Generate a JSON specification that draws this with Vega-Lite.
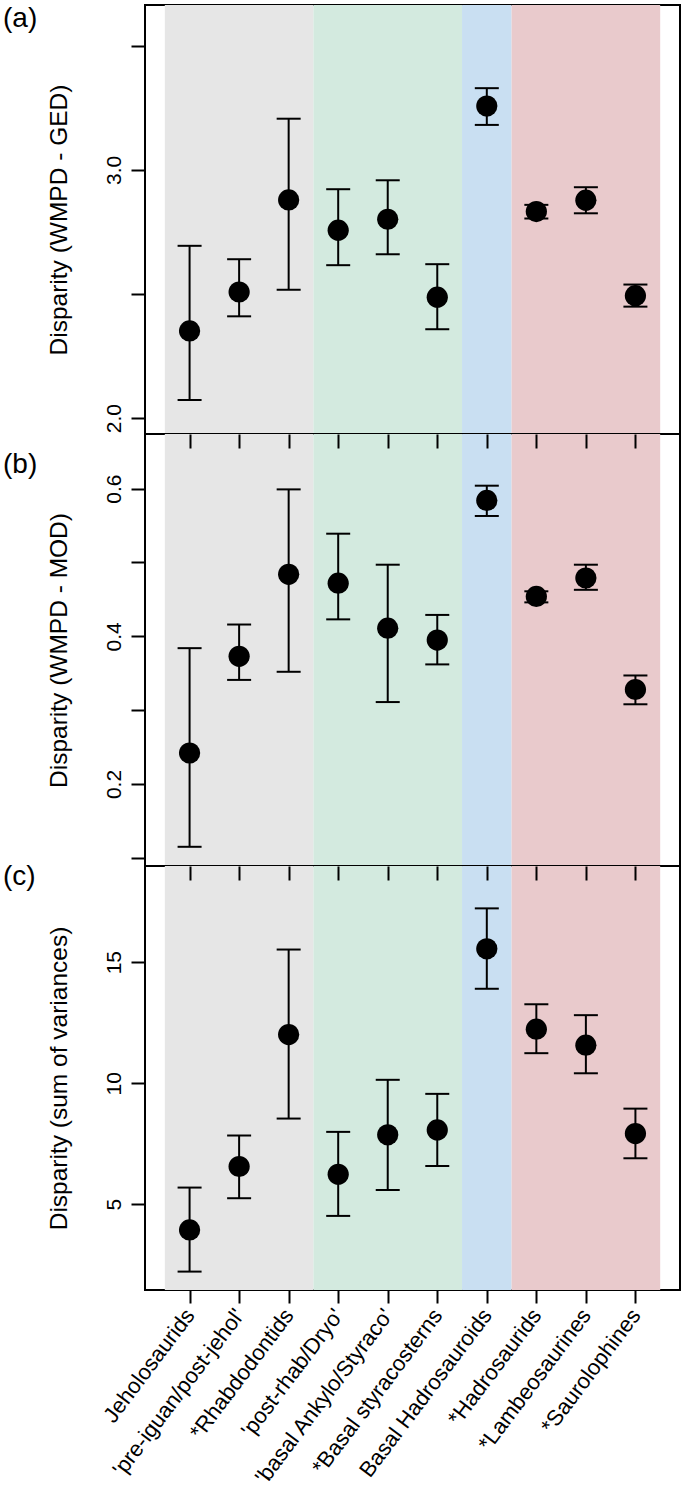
{
  "$schema": "https://vega.github.io/schema/vega-lite/v6.json",
  "padding": {"left": 2, "top": 4, "right": 3, "bottom": 5},
  "background": "white",
  "config": {
    "font": "Liberation Sans",
    "view": {"stroke": "black", "strokeWidth": 2},
    "axis": {"labelColor": "black", "titleColor": "black", "tickColor": "black", "domain": false, "grid": false, "labelFont": "Liberation Sans", "titleFont": "Liberation Sans", "titleFontWeight": "normal", "labelLimit": 0},
    "title": {"font": "Liberation Sans", "fontWeight": "normal", "color": "black"}
  },
  "datasets": {
    "bands": [
      {"pos": 0.5, "pos2": 3.5, "band": "basal ornithopods"},
      {"pos": 3.5, "pos2": 6.5, "band": "styracosterns"},
      {"pos": 6.5, "pos2": 7.5, "band": "basal hadrosauroids"},
      {"pos": 7.5, "pos2": 10.5, "band": "hadrosaurids"}
    ],
    "a": [
      {"pos": 1, "taxon": "Jeholosaurids", "value": 2.351, "lower": 2.073, "upper": 2.694},
      {"pos": 2, "taxon": "'pre-iguan/post-jehol'", "value": 2.508, "lower": 2.410, "upper": 2.640},
      {"pos": 3, "taxon": "*Rhabdodontids", "value": 2.879, "lower": 2.517, "upper": 3.206},
      {"pos": 4, "taxon": "'post-rhab/Dryo'", "value": 2.757, "lower": 2.616, "upper": 2.922},
      {"pos": 5, "taxon": "'basal Ankylo/Styraco'", "value": 2.801, "lower": 2.660, "upper": 2.958},
      {"pos": 6, "taxon": "*Basal styracosterns", "value": 2.487, "lower": 2.358, "upper": 2.620},
      {"pos": 7, "taxon": "Basal Hadrosauroids", "value": 3.257, "lower": 3.181, "upper": 3.329},
      {"pos": 8, "taxon": "*Hadrosaurids", "value": 2.832, "lower": 2.804, "upper": 2.859},
      {"pos": 9, "taxon": "*Lambeosaurines", "value": 2.878, "lower": 2.825, "upper": 2.930},
      {"pos": 10, "taxon": "*Saurolophines", "value": 2.493, "lower": 2.449, "upper": 2.538}
    ],
    "b": [
      {"pos": 1, "taxon": "Jeholosaurids", "value": 0.242, "lower": 0.115, "upper": 0.384},
      {"pos": 2, "taxon": "'pre-iguan/post-jehol'", "value": 0.373, "lower": 0.341, "upper": 0.416},
      {"pos": 3, "taxon": "*Rhabdodontids", "value": 0.484, "lower": 0.352, "upper": 0.599},
      {"pos": 4, "taxon": "'post-rhab/Dryo'", "value": 0.472, "lower": 0.423, "upper": 0.539},
      {"pos": 5, "taxon": "'basal Ankylo/Styraco'", "value": 0.411, "lower": 0.311, "upper": 0.497},
      {"pos": 6, "taxon": "*Basal styracosterns", "value": 0.395, "lower": 0.362, "upper": 0.429},
      {"pos": 7, "taxon": "Basal Hadrosauroids", "value": 0.584, "lower": 0.563, "upper": 0.604},
      {"pos": 8, "taxon": "*Hadrosaurids", "value": 0.454, "lower": 0.446, "upper": 0.461},
      {"pos": 9, "taxon": "*Lambeosaurines", "value": 0.479, "lower": 0.463, "upper": 0.497},
      {"pos": 10, "taxon": "*Saurolophines", "value": 0.328, "lower": 0.308, "upper": 0.347}
    ],
    "c": [
      {"pos": 1, "taxon": "Jeholosaurids", "value": 3.94, "lower": 2.22, "upper": 5.69},
      {"pos": 2, "taxon": "'pre-iguan/post-jehol'", "value": 6.56, "lower": 5.25, "upper": 7.84},
      {"pos": 3, "taxon": "*Rhabdodontids", "value": 12.01, "lower": 8.54, "upper": 15.52},
      {"pos": 4, "taxon": "'post-rhab/Dryo'", "value": 6.24, "lower": 4.52, "upper": 7.99},
      {"pos": 5, "taxon": "'basal Ankylo/Styraco'", "value": 7.87, "lower": 5.59, "upper": 10.14},
      {"pos": 6, "taxon": "*Basal styracosterns", "value": 8.07, "lower": 6.58, "upper": 9.56},
      {"pos": 7, "taxon": "Basal Hadrosauroids", "value": 15.55, "lower": 13.90, "upper": 17.22},
      {"pos": 8, "taxon": "*Hadrosaurids", "value": 12.23, "lower": 11.24, "upper": 13.26},
      {"pos": 9, "taxon": "*Lambeosaurines", "value": 11.57, "lower": 10.41, "upper": 12.81},
      {"pos": 10, "taxon": "*Saurolophines", "value": 7.92, "lower": 6.90, "upper": 8.95}
    ]
  },
  "spacing": 0,
  "bounds": "flush",
  "vconcat": [
    {
      "width": 535,
      "height": 429,
      "title": {"text": "(a)", "anchor": "start", "frame": "group", "orient": "top", "offset": 0, "baseline": "top", "dx": -142, "dy": 28, "fontSize": 28},
      "resolve": {"axis": {"x": "independent", "y": "independent"}},
      "layer": [
        {
          "data": {"name": "bands"},
          "mark": {"type": "rect"},
          "encoding": {
            "x": {"field": "pos", "type": "quantitative", "scale": {"domain": [0.1, 10.9], "nice": false, "zero": false}, "axis": null},
            "x2": {"field": "pos2"},
            "color": {"field": "band", "type": "nominal", "scale": {"domain": ["basal ornithopods", "styracosterns", "basal hadrosauroids", "hadrosaurids"], "range": ["#e6e6e6", "#d3eadf", "#c9dff2", "#e9cacc"]}, "legend": null}
          }
        },
        {
          "data": {"name": "a"},
          "mark": {"type": "rule", "strokeWidth": 2, "color": "black"},
          "encoding": {
            "x": {"field": "pos", "type": "quantitative", "scale": {"domain": [0.1, 10.9], "nice": false, "zero": false}, "axis": null},
            "y": {"field": "lower", "type": "quantitative", "scale": {"domain": [1.936, 3.664], "nice": false, "zero": false},
              "axis": {"orient": "left", "values": [2.0, 2.5, 3.0, 3.5], "labelExpr": "datum.value == 2 || datum.value == 3 ? format(datum.value, '.1f') : ''", "title": "Disparity (WMPD - GED)", "tickSize": 14, "tickWidth": 2, "labelAngle": -90, "labelAlign": "center", "labelBaseline": "bottom", "labelFontSize": 21, "labelPadding": 7, "titleFontSize": 24.5, "titlePadding": 32}},
            "y2": {"field": "upper"}
          }
        },
        {
          "data": {"name": "a"},
          "mark": {"type": "tick", "orient": "horizontal", "size": 24, "thickness": 2, "color": "black", "opacity": 1},
          "encoding": {
            "x": {"field": "pos", "type": "quantitative", "scale": {"domain": [0.1, 10.9], "nice": false, "zero": false}, "axis": null},
            "y": {"field": "upper", "type": "quantitative", "scale": {"domain": [1.936, 3.664], "nice": false, "zero": false}, "axis": null}
          }
        },
        {
          "data": {"name": "a"},
          "mark": {"type": "tick", "orient": "horizontal", "size": 24, "thickness": 2, "color": "black", "opacity": 1},
          "encoding": {
            "x": {"field": "pos", "type": "quantitative", "scale": {"domain": [0.1, 10.9], "nice": false, "zero": false}, "axis": null},
            "y": {"field": "lower", "type": "quantitative", "scale": {"domain": [1.936, 3.664], "nice": false, "zero": false}, "axis": null}
          }
        },
        {
          "data": {"name": "a"},
          "mark": {"type": "circle", "size": 450, "color": "black", "opacity": 1},
          "encoding": {
            "x": {"field": "pos", "type": "quantitative", "scale": {"domain": [0.1, 10.9], "nice": false, "zero": false}, "axis": null},
            "y": {"field": "value", "type": "quantitative", "scale": {"domain": [1.936, 3.664], "nice": false, "zero": false}, "axis": null}
          }
        }
      ]
    },
    {
      "width": 535,
      "height": 432,
      "title": {"text": "(b)", "anchor": "start", "frame": "group", "orient": "top", "offset": 0, "baseline": "top", "dx": -142, "dy": 46, "fontSize": 28},
      "resolve": {"axis": {"x": "independent", "y": "independent"}},
      "layer": [
        {
          "data": {"name": "bands"},
          "mark": {"type": "rect"},
          "encoding": {
            "x": {"field": "pos", "type": "quantitative", "scale": {"domain": [0.1, 10.9], "nice": false, "zero": false},
              "axis": {"orient": "top", "values": [1, 2, 3, 4, 5, 6, 7, 8, 9, 10], "labels": false, "title": null, "tickSize": 14, "tickWidth": 2, "offset": -14, "zindex": 1}},
            "x2": {"field": "pos2"},
            "color": {"field": "band", "type": "nominal", "scale": {"domain": ["basal ornithopods", "styracosterns", "basal hadrosauroids", "hadrosaurids"], "range": ["#e6e6e6", "#d3eadf", "#c9dff2", "#e9cacc"]}, "legend": null}
          }
        },
        {
          "data": {"name": "b"},
          "mark": {"type": "rule", "strokeWidth": 2, "color": "black"},
          "encoding": {
            "x": {"field": "pos", "type": "quantitative", "scale": {"domain": [0.1, 10.9], "nice": false, "zero": false}, "axis": null},
            "y": {"field": "lower", "type": "quantitative", "scale": {"domain": [0.089, 0.674], "nice": false, "zero": false},
              "axis": {"orient": "left", "values": [0.1, 0.2, 0.3, 0.4, 0.5, 0.6], "labelExpr": "indexof([0.2, 0.4, 0.6], datum.value) >= 0 ? format(datum.value, '.1f') : ''", "title": "Disparity (WMPD - MOD)", "tickSize": 14, "tickWidth": 2, "labelAngle": -90, "labelAlign": "center", "labelBaseline": "bottom", "labelFontSize": 21, "labelPadding": 7, "titleFontSize": 24.5, "titlePadding": 32}},
            "y2": {"field": "upper"}
          }
        },
        {
          "data": {"name": "b"},
          "mark": {"type": "tick", "orient": "horizontal", "size": 24, "thickness": 2, "color": "black", "opacity": 1},
          "encoding": {
            "x": {"field": "pos", "type": "quantitative", "scale": {"domain": [0.1, 10.9], "nice": false, "zero": false}, "axis": null},
            "y": {"field": "upper", "type": "quantitative", "scale": {"domain": [0.089, 0.674], "nice": false, "zero": false}, "axis": null}
          }
        },
        {
          "data": {"name": "b"},
          "mark": {"type": "tick", "orient": "horizontal", "size": 24, "thickness": 2, "color": "black", "opacity": 1},
          "encoding": {
            "x": {"field": "pos", "type": "quantitative", "scale": {"domain": [0.1, 10.9], "nice": false, "zero": false}, "axis": null},
            "y": {"field": "lower", "type": "quantitative", "scale": {"domain": [0.089, 0.674], "nice": false, "zero": false}, "axis": null}
          }
        },
        {
          "data": {"name": "b"},
          "mark": {"type": "circle", "size": 450, "color": "black", "opacity": 1},
          "encoding": {
            "x": {"field": "pos", "type": "quantitative", "scale": {"domain": [0.1, 10.9], "nice": false, "zero": false}, "axis": null},
            "y": {"field": "value", "type": "quantitative", "scale": {"domain": [0.089, 0.674], "nice": false, "zero": false}, "axis": null}
          }
        }
      ]
    },
    {
      "width": 535,
      "height": 424,
      "title": {"text": "(c)", "anchor": "start", "frame": "group", "orient": "top", "offset": 0, "baseline": "top", "dx": -142, "dy": 26, "fontSize": 28},
      "resolve": {"axis": {"x": "independent", "y": "independent"}},
      "layer": [
        {
          "data": {"name": "bands"},
          "mark": {"type": "rect"},
          "encoding": {
            "x": {"field": "pos", "type": "quantitative", "scale": {"domain": [0.1, 10.9], "nice": false, "zero": false},
              "axis": {"orient": "top", "values": [1, 2, 3, 4, 5, 6, 7, 8, 9, 10], "labels": false, "title": null, "tickSize": 14, "tickWidth": 2, "offset": -14, "zindex": 1}},
            "x2": {"field": "pos2"},
            "color": {"field": "band", "type": "nominal", "scale": {"domain": ["basal ornithopods", "styracosterns", "basal hadrosauroids", "hadrosaurids"], "range": ["#e6e6e6", "#d3eadf", "#c9dff2", "#e9cacc"]}, "legend": null}
          }
        },
        {
          "data": {"name": "c"},
          "mark": {"type": "rule", "strokeWidth": 2, "color": "black"},
          "encoding": {
            "x": {"field": "pos", "type": "quantitative", "scale": {"domain": [0.1, 10.9], "nice": false, "zero": false}, "axis": null},
            "y": {"field": "lower", "type": "quantitative", "scale": {"domain": [1.46, 18.97], "nice": false, "zero": false},
              "axis": {"orient": "left", "values": [5, 10, 15], "title": "Disparity (sum of variances)", "tickSize": 14, "tickWidth": 2, "labelAngle": -90, "labelAlign": "center", "labelBaseline": "bottom", "labelFontSize": 21, "labelPadding": 7, "titleFontSize": 24.5, "titlePadding": 32}},
            "y2": {"field": "upper"}
          }
        },
        {
          "data": {"name": "c"},
          "mark": {"type": "tick", "orient": "horizontal", "size": 24, "thickness": 2, "color": "black", "opacity": 1},
          "encoding": {
            "x": {"field": "pos", "type": "quantitative", "scale": {"domain": [0.1, 10.9], "nice": false, "zero": false}, "axis": null},
            "y": {"field": "upper", "type": "quantitative", "scale": {"domain": [1.46, 18.97], "nice": false, "zero": false}, "axis": null}
          }
        },
        {
          "data": {"name": "c"},
          "mark": {"type": "tick", "orient": "horizontal", "size": 24, "thickness": 2, "color": "black", "opacity": 1},
          "encoding": {
            "x": {"field": "pos", "type": "quantitative", "scale": {"domain": [0.1, 10.9], "nice": false, "zero": false}, "axis": null},
            "y": {"field": "lower", "type": "quantitative", "scale": {"domain": [1.46, 18.97], "nice": false, "zero": false}, "axis": null}
          }
        },
        {
          "data": {"name": "c"},
          "mark": {"type": "circle", "size": 450, "color": "black", "opacity": 1},
          "encoding": {
            "x": {"field": "pos", "type": "quantitative", "scale": {"domain": [0.1, 10.9], "nice": false, "zero": false},
              "axis": {"orient": "bottom", "values": [1, 2, 3, 4, 5, 6, 7, 8, 9, 10], "labelExpr": "['Jeholosaurids', \"'pre-iguan/post-jehol'\", '*Rhabdodontids', \"'post-rhab/Dryo'\", \"'basal Ankylo/Styraco'\", '*Basal styracosterns', 'Basal Hadrosauroids', '*Hadrosaurids', '*Lambeosaurines', '*Saurolophines'][datum.value - 1]", "title": null, "tickSize": 13, "tickWidth": 2, "labelAngle": -53, "labelAlign": "right", "labelBaseline": "middle", "labelFontSize": 22, "labelPadding": 8, "labelOverlap": false, "labelFlush": false, "labelBound": false}},
            "y": {"field": "value", "type": "quantitative", "scale": {"domain": [1.46, 18.97], "nice": false, "zero": false}, "axis": null}
          }
        }
      ]
    }
  ]
}
